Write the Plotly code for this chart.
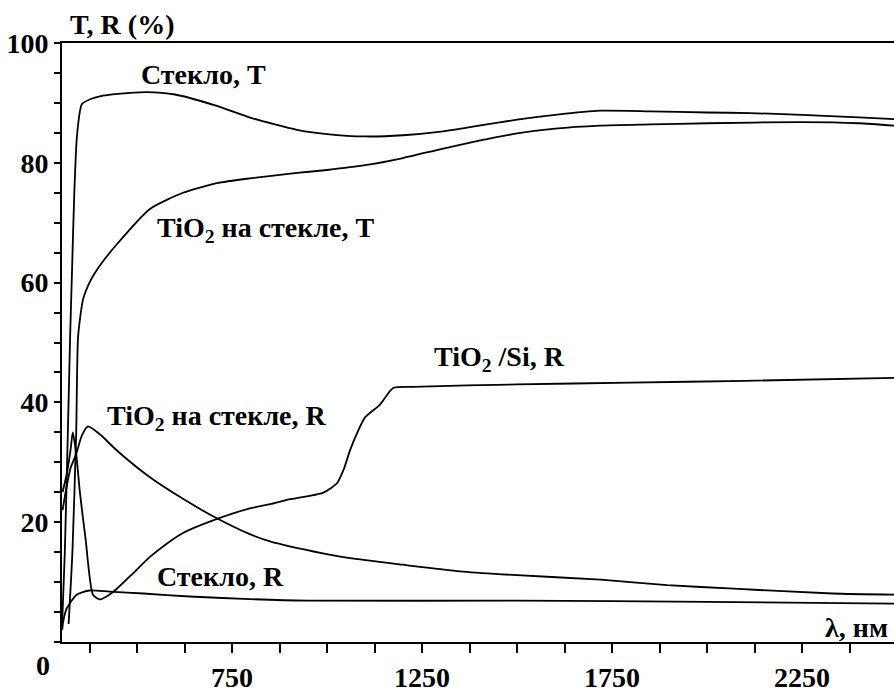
import plotly.graph_objects as go

# ---- data ----
glass_T_wl = [303, 310, 318, 324, 329, 335, 342, 355, 380, 402, 450, 526, 600, 710, 800, 921,
              1000, 1100, 1200, 1300, 1400, 1500, 1600, 1718, 1850, 2000, 2113, 2250, 2400, 2492]
glass_T = [3, 15, 35, 51, 62, 75, 84.5, 89.8, 90.7, 91.1, 91.5, 91.8, 91.4, 89.5, 87.5, 85.5,
           84.8, 84.4, 84.6, 85.2, 86.2, 87.2, 88.0, 88.7, 88.6, 88.4, 88.3, 88.0, 87.6, 87.3]

tio2_T_wl = [320, 330, 340, 345, 358, 375, 395, 447, 534, 621, 710, 797, 921,
             1000, 1100, 1200, 1300, 1400, 1500, 1600, 1718, 1850, 2000, 2245, 2400, 2492]
tio2_T = [3, 15, 35, 51, 57.2, 60, 62.2, 66.4, 72.3, 75.0, 76.6, 77.4, 78.3,
          78.8, 79.6, 80.8, 82.3, 83.7, 84.9, 85.7, 86.2, 86.4, 86.6, 86.8, 86.6, 86.2]

si_R_wl = [304, 315, 325, 331, 340, 350, 365, 384, 402, 420, 447, 490, 534, 580, 621, 700, 797, 850,
           900, 989, 1026, 1045, 1060, 1080, 1100, 1139, 1174, 1226, 1500, 1797, 2100, 2492]
si_R = [25, 28, 32, 35, 31.4, 24.8, 17, 7.9, 7.1, 7.6, 8.9, 11.5, 14.2, 16.5, 18.2, 20.3, 22.3, 23.0,
        23.8, 24.9, 26.5, 29, 31.9, 35, 37.5, 39.6, 42.4, 42.6, 43, 43.3, 43.6, 44.1]

tio2_R_wl = [304, 315, 325, 340, 355, 371, 400, 450, 534, 621, 700, 797, 850, 989, 1060,
             1200, 1350, 1460, 1720, 1895, 2070, 2330, 2492]
tio2_R = [22, 26, 29, 31.4, 34.5, 36, 34.8, 31.8, 27.5, 23.9, 21, 18, 16.8, 14.8, 14,
          12.9, 11.8, 11.3, 10.4, 9.5, 8.9, 8.1, 7.9]

glass_R_wl = [303, 306, 315, 341, 375, 428, 517, 638, 780, 950, 1500, 2000, 2492]
glass_R = [2, 3.5, 5.6, 7.9, 8.6, 8.4, 8.1, 7.6, 7.2, 6.9, 6.9, 6.7, 6.4]

x_ticks = [750, 1250, 1750, 2250]
y_ticks = [20, 40, 60, 80, 100]

FONT = "Liberation Serif"

fig = go.Figure()
for wl, v in [(glass_T_wl, glass_T), (tio2_T_wl, tio2_T), (si_R_wl, si_R),
              (tio2_R_wl, tio2_R), (glass_R_wl, glass_R)]:
    fig.add_trace(go.Scatter(x=wl, y=v, mode="lines",
                             line=dict(color="black", width=1.8, shape="spline", smoothing=0.6),
                             showlegend=False, hoverinfo="skip"))

lab = dict(family=FONT, size=28, color="black", weight="bold")
annotations = [
    dict(x=674, y=94.7, text="Стекло, T", xanchor="center", yanchor="middle"),
    dict(x=547, y=68.9, text="TiO<sub>2</sub> на стекле, T", xanchor="left", yanchor="middle"),
    dict(x=1276, y=47.3, text="TiO<sub>2</sub> /Si, R", xanchor="left", yanchor="middle"),
    dict(x=415, y=37.4, text="TiO<sub>2</sub> на стекле, R", xanchor="left", yanchor="middle"),
    dict(x=547, y=10.9, text="Стекло, R", xanchor="left", yanchor="middle"),
    dict(x=2481, y=2.5, text="λ, нм", xanchor="right", yanchor="middle"),
]
for a in annotations:
    a.update(xref="x", yref="y", showarrow=False, font=lab)
annotations.append(dict(xref="paper", yref="paper", x=0.007, y=1.031, text="T, R (%)",
                        xanchor="left", yanchor="middle", showarrow=False, font=lab))
annotations.append(dict(xref="paper", yref="paper", x=-0.0228, y=-0.0395, text="0",
                        xanchor="center", yanchor="middle", showarrow=False, font=lab))

fig.update_layout(
    width=894, height=693,
    margin=dict(l=62, r=0, t=43, b=42),
    paper_bgcolor="white", plot_bgcolor="white",
    annotations=annotations,
    xaxis=dict(range=[302.6, 2492], tickvals=x_ticks, ticks="outside", ticklen=9, tickwidth=2,
               tickcolor="black", showgrid=False, zeroline=False, showline=True, linecolor="black",
               linewidth=2, mirror=True,
               minor=dict(tick0=0, dtick=125, ticks="outside", ticklen=9, tickwidth=2, tickcolor="black"),
               tickfont=dict(family=FONT, size=28, color="black", weight="bold")),
    yaxis=dict(range=[0, 100], tickvals=y_ticks, ticks="outside", ticklen=6, tickwidth=2,
               tickcolor="black", showgrid=False, zeroline=False, showline=True, linecolor="black",
               linewidth=2, mirror=False,
               minor=dict(tick0=0, dtick=5, ticks="outside", ticklen=6, tickwidth=2, tickcolor="black"),
               tickfont=dict(family=FONT, size=28, color="black", weight="bold")),
)

fig.write_html("out.html")
